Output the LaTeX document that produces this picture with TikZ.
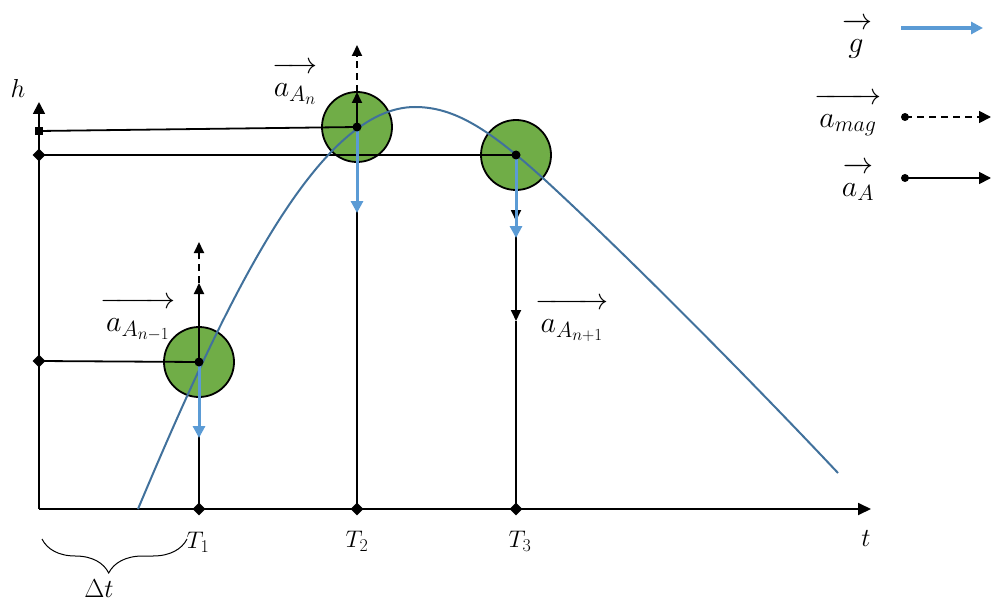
\RequirePackage{fix-cm}
\documentclass[tikz,border=0pt]{standalone}
\usetikzlibrary{arrows.meta,shapes.geometric,decorations.pathreplacing}
\definecolor{ballgreen}{HTML}{70AD47}
\definecolor{curveblue}{HTML}{41719C}
\definecolor{gblue}{HTML}{5B9BD5}
\DeclareMathSizes{30}{30}{22}{17}
\DeclareMathSizes{24}{24}{18}{14}
\DeclareMathSizes{26}{26}{19}{15}
\newcommand\vlab[2]{\hbox to #1{\rightarrowfill}\\[0pt]$#2$}
\begin{document}
\begin{tikzpicture}[x=1pt,y=-1pt,
  ln/.style={line width=1.8pt},
  tipk/.style={-{Triangle[width=10pt,length=11pt]}},
  gvec/.style={gblue,line width=3pt,-{Triangle[width=12pt,length=12pt]}},
  ball/.style={circle,draw=black,line width=1.8pt,fill=ballgreen,minimum size=70pt,inner sep=0pt},
  cdot/.style={circle,fill=black,minimum size=9pt,inner sep=0pt},
  dmark/.style={diamond,fill=black,minimum size=13pt,inner sep=0pt},
  smark/.style={rectangle,fill=black,minimum size=8pt,inner sep=0pt},
  lab/.style={font=\fontsize{24}{26}\selectfont,inner sep=0pt},
  biglab/.style={font=\fontsize{26}{26}\selectfont,inner sep=0pt},
  vlabel/.style={font=\fontsize{30}{23}\selectfont,align=center,inner sep=0pt,anchor=south}]
\useasboundingbox (0,0) rectangle (992,604);
% balls
\node[ball] (b1) at (199,362) {};
\node[ball] (b2) at (357,127) {};
\node[ball] (b3) at (516,155) {};
% axes
\coordinate (O) at (39,509);
\coordinate (ytip) at (39,102);
\coordinate (xtip) at (871,509);
\draw[ln,-{Triangle[width=12pt,length=12pt]}] (O) -- (ytip);
\draw[ln,-{Triangle[width=12pt,length=13pt]}] (O) -- (xtip);
% markers on axes
\node[smark] (m2) at (39,131) {};
\node[dmark] (m3) at (39,155) {};
\node[dmark] (m1) at (39,361) {};
\node[dmark] (t1) at (199,509) {};
\node[dmark] (t2) at (357,509) {};
\node[dmark] (t3) at (516,509) {};
% horizontal lines
\draw[ln] (m2.center) -- (b2.center);
\draw[ln] (m3.center) -- (b3.center);
\draw[ln] (m1.center) -- (b1.center);
% T1
\coordinate (u1) at (199,283);
\coordinate (d1) at (199,242);
\coordinate (g1) at (199,438);
\draw[ln] (t1.center) -- (b1.center);
\draw[ln,tipk] (b1.center) -- (u1);
\draw[ln,dashed,dash pattern=on 7pt off 5pt,tipk] (u1) -- (d1);
% T2
\coordinate (u2) at (357,92);
\coordinate (d2) at (357,45);
\coordinate (g2) at (357,213);
\draw[ln] (t2.center) -- (b2.center);
\draw[ln,tipk] (b2.center) -- (u2);
\draw[ln,dashed,dash pattern=on 7pt off 5pt,tipk] (u2) -- (d2);
% T3
\coordinate (k1) at (516,221);
\coordinate (g3) at (516,238);
\coordinate (k2) at (516,321);
\draw[ln] (k2) -- (t3.center);
\draw[ln,tipk] (b3.center) -- (k2);
\draw[ln,tipk] (b3.center) -- (k1);
% curve
\draw[curveblue,line width=2pt] (138,509) .. controls (230,290) and (320,107) .. (415,107)
  .. controls (455,107) and (490,130) .. (545,180)
  .. controls (630,258) and (760,390) .. (838,473);
% gravity arrows
\draw[gvec] (b1.center) -- (g1);
\draw[gvec] (b2.center) -- (g2);
\draw[gvec] (b3.center) -- (g3);
% dots
\node[cdot] (c1) at (b1.center) {};
\node[cdot] (c2) at (b2.center) {};
\node[cdot] (c3) at (b3.center) {};
% labels
\node[biglab] (hl) at (18,88) {$h$};
\node[biglab] (tl) at (866,538) {$t$};
\node[lab] (T1) at (198,542) {$T_1$};
\node[lab] (T2) at (357,541) {$T_2$};
\node[lab] (T3) at (520,541) {$T_3$};
\draw[line width=1pt,decorate,decoration={brace,mirror,amplitude=34pt,aspect=0.46}] (42,539) -- (187,539);
\node[biglab] (dt) at (99,589) {$\Delta t$};
\node[vlabel] (la1) at (138,341) {\vlab{75pt}{a_{A_{n-1}}}};
\node[vlabel] (la2) at (295,105) {\vlab{46pt}{a_{A_n}}};
\node[vlabel] (la3) at (572,342) {\vlab{73pt}{a_{A_{n+1}}}};
% legend
\node[vlabel] (lg) at (856,59) {\vlab{28pt}{g}};
\node[vlabel] (lm) at (848,136) {\vlab{67pt}{a_{mag}}};
\node[vlabel] (la) at (858,201) {\vlab{31pt}{a_A}};
\node[cdot,minimum size=8pt] (p2) at (905,117) {};
\node[cdot,minimum size=8pt] (p3) at (905,178) {};
\coordinate (q1) at (901,28);
\coordinate (e1) at (983,28);
\coordinate (e2) at (991,117);
\coordinate (e3) at (991,178);
\draw[gvec,line width=3.5pt] (q1) -- (e1);
\draw[ln,dashed,dash pattern=on 7pt off 5pt,-{Triangle[width=12pt,length=12pt]}] (p2.center) -- (e2);
\draw[ln,-{Triangle[width=12pt,length=12pt]}] (p3.center) -- (e3);
\end{tikzpicture}
\end{document}
